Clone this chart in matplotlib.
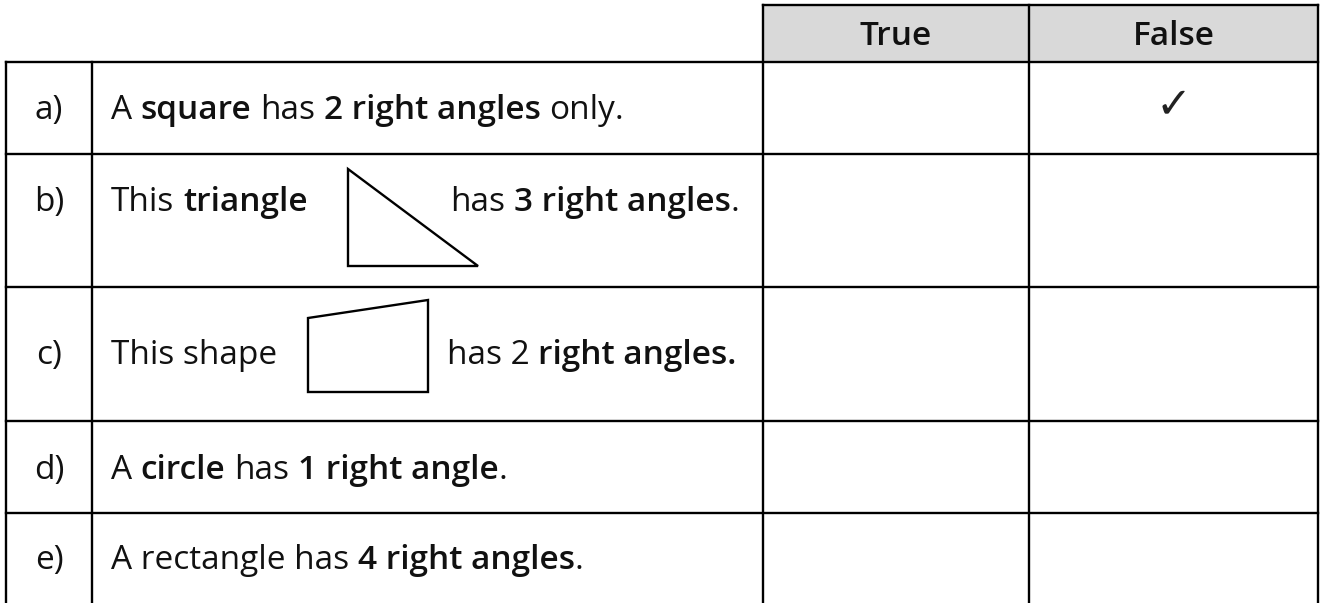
import matplotlib
matplotlib.use('Agg')
import matplotlib.pyplot as plt
from matplotlib.patches import Rectangle, Polygon

# 表格内容
row_labels = ['a)', 'b)', 'c)', 'd)', 'e)']
headers = ['True', 'False']

# 每行句子：(文字, 是否加粗)；b、c 两行被图形分成两段
statements = [
    [[('A ', False), ('square', True), (' has ', False), ('2 right angles', True), (' only.', False)]],
    [[('This ', False), ('triangle', True)],
     [('has ', False), ('3 right angles', True), ('.', False)]],
    [[('This shape', False)],
     [('has 2 ', False), ('right angles.', True)]],
    [[('A ', False), ('circle', True), (' has ', False), ('1 right angle', True), ('.', False)]],
    [[('A rectangle has ', False), ('4 right angles', True), ('.', False)]],
]

# 已勾选的答案
answers = ['False', None, None, None, None]

# 版面（像素）
W, H = 1322, 603
col_x = [6, 92, 763, 1029, 1318]
row_y = [5, 62, 154, 287, 421, 513, 603]
baselines = [119, 211, 364, 479, 569]
seg_x = [[111], [111, 450], [111, 447], [111], [111]]
fs = 24
lw = 1.7
txt_color = '#111111'
font = 'Open Sans'

fig = plt.figure(figsize=(W / 100, H / 100), dpi=100)
ax = fig.add_axes([0, 0, 1, 1])
ax.set_xlim(0, W)
ax.set_ylim(H, 0)
ax.axis('off')
renderer = fig.canvas.get_renderer()


def text_width(s, bold):
    t = ax.text(0, 0, s, fontsize=fs, family=font,
                fontweight='semibold' if bold else 'normal')
    w = t.get_window_extent(renderer).width
    t.remove()
    return w


space_w = text_width('x x', False) - text_width('xx', False)


def draw_runs(x, y, runs):
    for s, bold in runs:
        lead = len(s) - len(s.lstrip(' '))
        trail = len(s) - len(s.rstrip(' '))
        core = s.strip(' ')
        x += lead * space_w
        t = ax.text(x, y, core, fontsize=fs, family=font, color=txt_color,
                    fontweight='semibold' if bold else 'normal',
                    ha='left', va='baseline')
        x += t.get_window_extent(renderer).width + trail * space_w


# 表头灰底
ax.add_patch(Rectangle((col_x[2], row_y[0]), col_x[4] - col_x[2], row_y[1] - row_y[0],
                       facecolor='#d9d9d9', edgecolor='none', zorder=0))

# 表格线
kw = dict(color='black', lw=lw, solid_capstyle='projecting')
ax.plot([col_x[2], col_x[4]], [row_y[0], row_y[0]], **kw)
for y in row_y[1:-1]:
    ax.plot([col_x[0], col_x[4]], [y, y], **kw)
for x in col_x[:2]:
    ax.plot([x, x], [row_y[1], H], **kw)
for x in col_x[2:]:
    ax.plot([x, x], [row_y[0], H], **kw)

# 表头文字
for i, h in enumerate(headers):
    cx = (col_x[2 + i] + col_x[3 + i]) / 2
    ax.text(cx, 45, h, fontsize=fs, family=font, fontweight='semibold',
            color=txt_color, ha='center', va='baseline')

# 行内容
for i, lab in enumerate(row_labels):
    ax.text((col_x[0] + col_x[1]) / 2, baselines[i], lab, fontsize=24, family=font,
            color=txt_color, ha='center', va='baseline')
    for j, runs in enumerate(statements[i]):
        draw_runs(seg_x[i][j], baselines[i], runs)
    if answers[i] is not None:
        k = headers.index(answers[i])
        cx = (col_x[2 + k] + col_x[3 + k]) / 2
        cy = (row_y[i + 1] + row_y[i + 2]) / 2
        ax.text(cx, cy - 3, '\u2713', fontsize=31, family='DejaVu Sans',
                color='#222222', ha='center', va='center')

# 插图：直角三角形与四边形
ax.add_patch(Polygon([(348, 169), (348, 266), (478, 266)], closed=True,
                     fill=False, edgecolor='black', lw=lw, joinstyle='miter'))
ax.add_patch(Polygon([(308, 318), (428, 300), (428, 392), (308, 392)], closed=True,
                     fill=False, edgecolor='black', lw=lw, joinstyle='miter'))

fig.savefig('out.png', dpi=100)
